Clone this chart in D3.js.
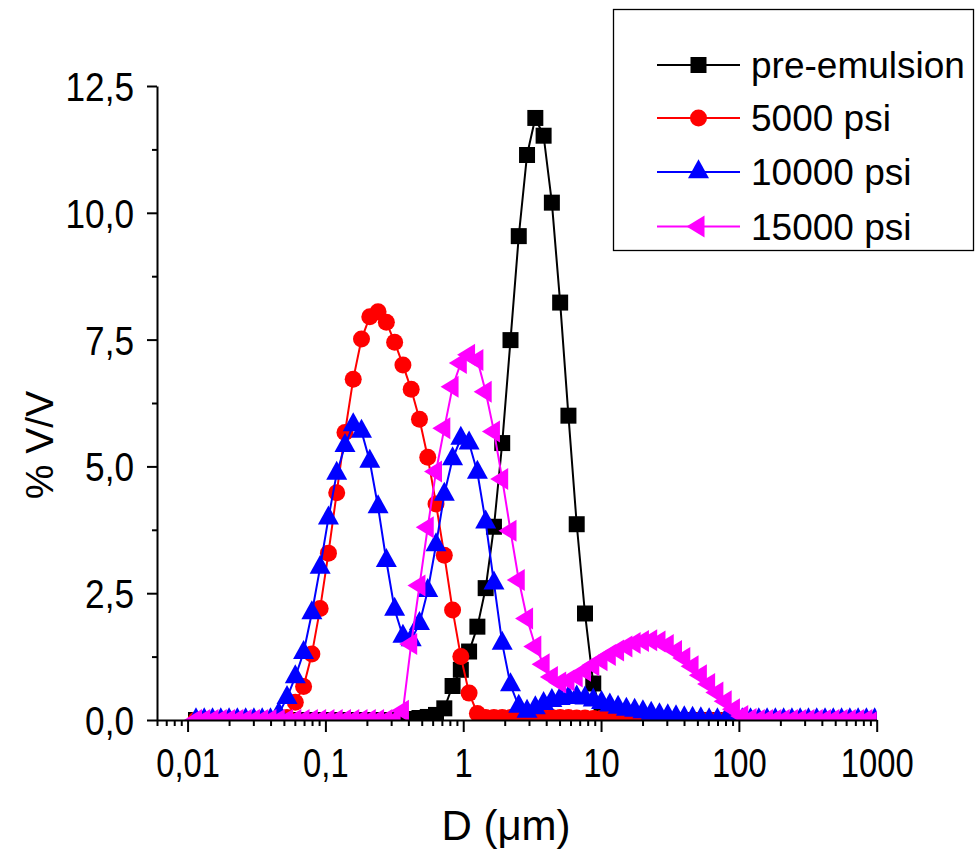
<!DOCTYPE html>
<html>
<head>
<meta charset="utf-8">
<script src="https://cdn.jsdelivr.net/npm/d3@7"></script>
<style>
  body { margin: 0; background: #fff; }
  svg text { font-family: "Liberation Sans", Arial, sans-serif; fill: #000; }
</style>
</head>
<body>
<div id="chart"></div>
<script>
// size classes (um), one per measured channel
const sizeBins = [
  0.01151, 0.01321, 0.01517, 0.01742, 0.02000, 0.02297, 0.02638, 0.03029, 0.03478, 0.03994,
  0.04587, 0.05267, 0.06048, 0.06945, 0.07976, 0.09159, 0.1052, 0.1208, 0.1387, 0.1592,
  0.1828, 0.2099, 0.2411, 0.2768, 0.3179, 0.3651, 0.4192, 0.4814, 0.5528, 0.6348,
  0.7290, 0.8371, 0.9607, 1.103, 1.267, 1.455, 1.671, 1.918, 2.203, 2.529,
  2.904, 3.335, 3.830, 4.397, 5.050, 5.799, 6.659, 7.646, 8.780, 10.08,
  11.58, 13.29, 15.27, 17.53, 20.13, 23.11, 26.54, 30.48, 34.99, 40.18,
  46.13, 52.98, 60.83, 69.85, 80.21, 92.11, 105.8, 121.5, 139.5, 160.2,
  183.9, 211.2, 242.5, 278.5, 319.8, 367.2, 421.7, 484.2, 556.0, 638.4,
  733.3, 841.9, 966.7
];

// % V/V per channel
const preEmulsion = [
  0, 0, 0, 0, 0, 0, 0, 0, 0, 0,
  0, 0, 0, 0, 0, 0, 0, 0, 0, 0,
  0, 0, 0, 0, 0, 0, 0.02, 0.04, 0.06, 0.10,
  0.23, 0.67, 0.99, 1.35, 1.84, 2.60, 3.81, 5.46, 7.49, 9.54,
  11.14, 11.87, 11.52, 10.20, 8.23, 6.00, 3.86, 2.10, 0.72, 0.10,
  0, 0, 0, 0, 0, 0, 0, 0, 0, 0,
  0, 0, 0, 0, 0, 0, 0, 0, 0, 0,
  0, 0, 0, 0, 0, 0, 0, 0, 0, 0,
  0, 0, 0
];
const psi5000 = [
  0, 0, 0, 0, 0, 0, 0, 0, 0, 0,
  0, 0.05, 0.35, 0.66, 1.30, 2.20, 3.29, 4.48, 5.67, 6.72,
  7.51, 7.95, 8.05, 7.84, 7.45, 7.00, 6.52, 5.93, 5.18, 4.26,
  3.25, 2.17, 1.25, 0.53, 0.13, 0.05, 0.05, 0.05, 0.05, 0.05,
  0.05, 0.05, 0.05, 0.05, 0.05, 0.05, 0.04, 0.04, 0.03, 0.03,
  0.03, 0.03, 0.02, 0.02, 0.02, 0.01, 0, 0, 0, 0,
  0, 0, 0, 0, 0, 0, 0, 0, 0, 0,
  0, 0, 0, 0, 0, 0, 0, 0, 0, 0,
  0, 0, 0
];
const psi10000 = [
  0, 0, 0, 0, 0, 0, 0, 0, 0, 0,
  0.12, 0.44, 0.85, 1.33, 2.11, 3.01, 3.98, 4.86, 5.41, 5.82,
  5.69, 5.10, 4.20, 3.14, 2.18, 1.65, 1.58, 1.90, 2.55, 3.45,
  4.45, 5.15, 5.55, 5.46, 4.88, 3.90, 2.70, 1.51, 0.69, 0.27,
  0.17, 0.24, 0.32, 0.38, 0.42, 0.44, 0.45, 0.43, 0.39, 0.34,
  0.29, 0.25, 0.21, 0.19, 0.16, 0.13, 0.10, 0.08, 0.06, 0.04,
  0.03, 0.02, 0, 0, 0, 0, 0, 0, 0, 0,
  0, 0, 0, 0, 0, 0, 0, 0, 0, 0,
  0, 0, 0
];
const psi15000 = [
  0, 0, 0, 0, 0, 0, 0, 0, 0, 0,
  0, 0, 0, 0, 0, 0, 0, 0, 0, 0,
  0, 0, 0, 0, 0, 0.18, 1.50, 2.65, 3.80, 4.90,
  5.75, 6.57, 7.04, 7.20, 7.10, 6.47, 5.69, 4.75, 3.73, 2.76,
  2.00, 1.45, 1.10, 0.85, 0.74, 0.78, 0.86, 0.97, 1.08, 1.18,
  1.28, 1.37, 1.45, 1.52, 1.56, 1.57, 1.55, 1.48, 1.36, 1.22,
  1.06, 0.88, 0.71, 0.54, 0.37, 0.21, 0.08, 0.02, 0, 0,
  0, 0, 0, 0, 0, 0, 0, 0, 0, 0,
  0, 0, 0
];

const seriesNames = ["pre-emulsion", "5000 psi", "10000 psi", "15000 psi"];
const seriesValues = [preEmulsion, psi5000, psi10000, psi15000];
const seriesColors = ["#000000", "#ff0000", "#0000ff", "#ff00ff"];

const yTickValues = [0, 2.5, 5, 7.5, 10, 12.5];
const yTickLabels = ["0,0", "2,5", "5,0", "7,5", "10,0", "12,5"];
const xTickValues = [0.01, 0.1, 1, 10, 100, 1000];
const xTickLabels = ["0,01", "0,1", "1", "10", "100", "1000"];

const width = 975, height = 850;
const plot = { left: 157, right: 876.7, top: 86, bottom: 720 };

const svg = d3.select("#chart")
  .append("svg")
  .attr("width", width)
  .attr("height", height);

const x = d3.scaleLog()
  .domain([0.006, 1000])
  .range([plot.left, plot.right]);

const y = d3.scaleLinear()
  .domain([0, 12.5])
  .range([plot.bottom, plot.top]);

// marker shapes (Origin style: filled, triangles centred on centroid)
const triUp = {
  draw(ctx) {
    const w = 21, h = 19;
    ctx.moveTo(0, -2 * h / 3);
    ctx.lineTo(w / 2, h / 3);
    ctx.lineTo(-w / 2, h / 3);
    ctx.closePath();
  }
};
const triLeft = {
  draw(ctx) {
    const w = 18, h = 22;
    ctx.moveTo(-2 * w / 3, 0);
    ctx.lineTo(w / 3, -h / 2);
    ctx.lineTo(w / 3, h / 2);
    ctx.closePath();
  }
};
const markers = [
  d3.symbol(d3.symbolSquare, 256)(),
  d3.symbol(d3.symbolCircle, 227)(),
  d3.symbol(triUp)(),
  d3.symbol(triLeft)()
];

svg.append("clipPath")
  .attr("id", "plot-clip")
  .append("rect")
  .attr("x", plot.left)
  .attr("y", 0)
  .attr("width", plot.right - plot.left)
  .attr("height", plot.bottom + 1);

const line = d3.line()
  .x(d => x(d.size))
  .y(d => y(d.value));

const dataArea = svg.append("g").attr("clip-path", "url(#plot-clip)");

seriesValues.forEach((values, k) => {
  const pts = sizeBins.map((s, i) => ({ size: s, value: values[i] }));
  const g = dataArea.append("g");

  g.append("path")
    .datum(pts)
    .attr("fill", "none")
    .attr("stroke", seriesColors[k])
    .attr("stroke-width", 2)
    .attr("d", line);

  g.selectAll("path.marker")
    .data(pts)
    .enter()
    .append("path")
    .attr("class", "marker")
    .attr("d", markers[k])
    .attr("fill", seriesColors[k])
    .attr("transform", d => `translate(${x(d.size)},${y(d.value)})`);
});

// axes
const yAxis = svg.append("g")
  .attr("transform", `translate(${plot.left},0)`)
  .call(d3.axisLeft(y)
    .tickValues(yTickValues)
    .tickFormat((d, i) => yTickLabels[i])
    .tickSize(10)
    .tickSizeOuter(0));

svg.append("g")
  .attr("transform", `translate(${plot.left},0)`)
  .call(d3.axisLeft(y)
    .tickValues(d3.range(1.25, 12.5, 2.5))
    .tickFormat("")
    .tickSize(5)
    .tickSizeOuter(0))
  .select(".domain").remove();

const xMinor = [];
[0.001, 0.01, 0.1, 1, 10, 100].forEach(dec => {
  for (let m = 2; m <= 9; m++) {
    const v = dec * m;
    if (v >= 0.006 && v < 1000) xMinor.push(v);
  }
});

const xAxis = svg.append("g")
  .attr("transform", `translate(0,${plot.bottom})`)
  .call(d3.axisBottom(x)
    .tickValues(xTickValues)
    .tickFormat((d, i) => xTickLabels[i])
    .tickSize(12)
    .tickSizeOuter(0));

svg.append("g")
  .attr("transform", `translate(0,${plot.bottom})`)
  .call(d3.axisBottom(x)
    .tickValues(xMinor)
    .tickFormat("")
    .tickSize(6)
    .tickSizeOuter(0))
  .select(".domain").remove();

svg.selectAll(".domain").attr("stroke-width", 2);
svg.selectAll(".tick line").attr("stroke-width", 2);

// tick labels: narrow, tall glyphs like the original
yAxis.selectAll(".tick text")
  .attr("x", 0)
  .attr("dy", "0.36em")
  .attr("transform", "translate(-23,0) scale(0.88,1)")
  .style("font-size", "40px");

xAxis.selectAll(".tick text")
  .attr("y", 0)
  .attr("dy", "0.71em")
  .attr("transform", "translate(0,29) scale(0.82,1)")
  .style("font-size", "40px");

// axis titles
svg.append("text")
  .attr("transform", "translate(53,445) rotate(-90)")
  .attr("text-anchor", "middle")
  .style("font-size", "39px")
  .text("% V/V");

svg.append("text")
  .attr("x", 506)
  .attr("y", 840)
  .attr("text-anchor", "middle")
  .style("font-size", "42px")
  .text("D (\u03bcm)");

// legend
const legend = svg.append("g");
legend.append("rect")
  .attr("x", 613.5)
  .attr("y", 9.5)
  .attr("width", 360)
  .attr("height", 241)
  .attr("fill", "#fff")
  .attr("stroke", "#000")
  .attr("stroke-width", 1.3);

const legendRows = [65, 118, 172, 226.5];
seriesNames.forEach((name, k) => {
  const row = legend.append("g").attr("transform", `translate(0,${legendRows[k]})`);
  row.append("line")
    .attr("x1", 657).attr("x2", 740)
    .attr("stroke", seriesColors[k])
    .attr("stroke-width", 2);
  row.append("path")
    .attr("d", markers[k])
    .attr("fill", seriesColors[k])
    .attr("transform", "translate(698.5,0)");
  row.append("text")
    .attr("x", 751)
    .attr("y", 13)
    .style("font-size", "37px")
    .text(name);
});
</script>
</body>
</html>
